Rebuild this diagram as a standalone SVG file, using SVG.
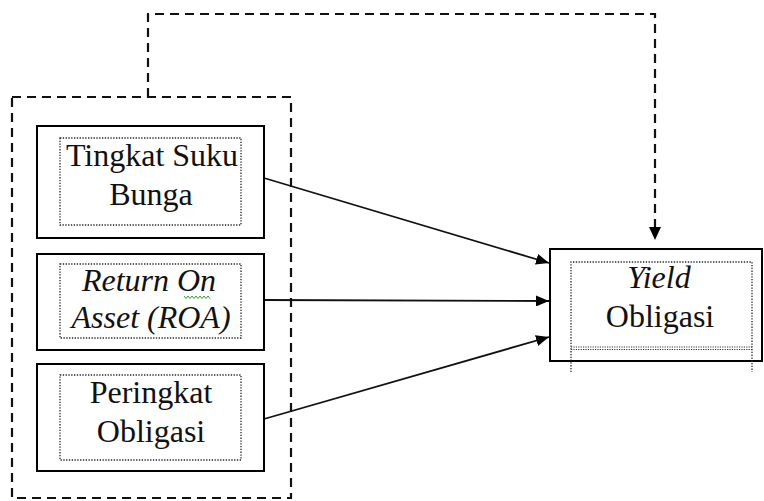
<svg xmlns="http://www.w3.org/2000/svg" width="764" height="501" viewBox="0 0 764 501">
  <style>
    .box { fill: #fff; stroke: #000; stroke-width: 2; }
    .inner { fill: none; stroke: #222; stroke-width: 1.3; stroke-dasharray: 1.3 1.5; }
    .dash { fill: none; stroke: #111; stroke-width: 2.2; stroke-dasharray: 9 6; }
    .link { fill: none; stroke: #111; stroke-width: 1.8; }
    .lbl { font-family: "Liberation Serif", "Times New Roman", serif; font-size: 32px; fill: #111; text-anchor: middle; }
    .it { font-style: italic; }
  </style>
  <defs>
    <marker id="arrow" viewBox="0 0 13 11" refX="13" refY="5.5" markerWidth="13" markerHeight="11" markerUnits="userSpaceOnUse" orient="auto">
      <path d="M0,0 L13,5.5 L0,11 Z" fill="#000"/>
    </marker>
  </defs>

  <!-- dashed grouping frame around the independent variables -->
  <rect class="dash" x="12" y="97" width="279" height="401"/>

  <g id="connectors">
    <line class="link" x1="264" y1="178" x2="549" y2="263" marker-end="url(#arrow)"/>
    <line class="link" x1="264" y1="300" x2="549" y2="301" marker-end="url(#arrow)"/>
    <line class="link" x1="264" y1="419" x2="549" y2="337" marker-end="url(#arrow)"/>
    <!-- simultaneous effect: dashed line from the frame to the dependent variable -->
    <polyline class="dash" points="148,97 148,14 655,14 655,228"/>
    <path d="M649,227 L661,227 L655,240 Z" fill="#000"/>
  </g>

  <g id="tingkat-suku-bunga">
    <rect class="box" x="37" y="126" width="227" height="112"/>
    <rect class="inner" x="60" y="138" width="181" height="87"/>
    <text class="lbl" x="152" y="166">Tingkat Suku</text>
    <text class="lbl" x="151" y="205">Bunga</text>
  </g>

  <g id="roa">
    <rect class="box" x="37" y="254" width="227" height="96"/>
    <rect class="inner" x="60" y="264" width="181" height="74"/>
    <text class="lbl it" x="149" y="291">Return On</text>
    <text class="lbl it" x="151" y="328">Asset (ROA)</text>
    <!-- spell-check squiggle under "On" -->
    <path d="M184,296 l2,2.5 l2,-2.5 l2,2.5 l2,-2.5 l2,2.5 l2,-2.5 l2,2.5 l2,-2.5 l2,2.5 l2,-2.5 l2,2.5 l2,-2.5 l2,2.5" fill="none" stroke="#3a9a3a" stroke-width="1"/>
  </g>

  <g id="peringkat-obligasi">
    <rect class="box" x="37" y="364" width="227" height="107"/>
    <rect class="inner" x="60" y="375" width="181" height="85"/>
    <text class="lbl" x="151" y="403">Peringkat</text>
    <text class="lbl" x="151" y="442">Obligasi</text>
  </g>

  <g id="yield-obligasi">
    <rect class="box" x="550" y="249" width="212" height="112"/>
    <path class="inner" d="M571,372 L571,262 L752,262 L752,372"/>
    <path d="M571,347 L752,347 M571,349.5 L752,349.5" fill="none" stroke="#333" stroke-width="1" stroke-dasharray="1.2 1.2"/>
    <text class="lbl it" x="659" y="288">Yield</text>
    <text class="lbl" x="660" y="327">Obligasi</text>
  </g>
</svg>
